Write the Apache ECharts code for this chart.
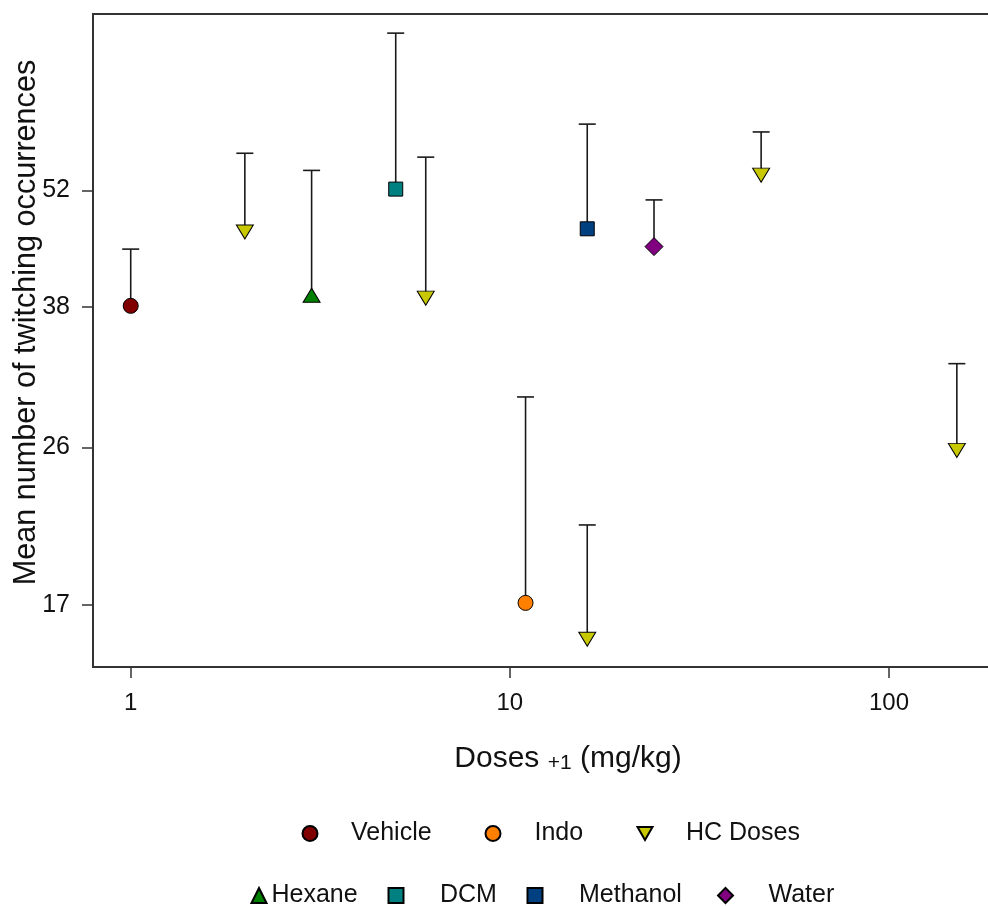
<!DOCTYPE html>
<html><head><meta charset="utf-8">
<script src="https://cdn.jsdelivr.net/npm/echarts@6/dist/echarts.min.js"></script>
<style>html,body{margin:0;padding:0;background:#fff}#c{width:988px;height:906px}</style>
</head><body><div id="c"></div>
<script>
// ---- data (x = dose + 1 in mg/kg, mean and mean+SE of twitching occurrences) ----
const vehicleX = [1],   vehicleMean = [38.1],  vehicleUpper = [44.4];
const indoX = [11],     indoMean = [17.1],     indoUpper = [29.8];
const hcX = [2, 6, 16, 46, 151];
const hcMean = [46.5, 38.9, 15.5, 54.2, 25.8];
const hcUpper = [57.5, 56.9, 21.1, 60.9, 32.6];
const hexaneX = [3],    hexaneMean = [39.2],   hexaneUpper = [54.9];
const dcmX = [5],       dcmMean = [52.2],      dcmUpper = [79.5];
const methanolX = [16], methanolMean = [46.9], methanolUpper = [62.2];
const waterX = [24],    waterMean = [44.7],    waterUpper = [50.7];
const yTicks = [17, 26, 38, 52];
const xTicks = [1, 10, 100];
const xTitleMain = 'Doses', xTitleSub = '+1', xTitleUnit = '(mg/kg)';
const yTitle = 'Mean number of twitching occurrences';

const FONT = "'Liberation Sans', Arial, sans-serif";
const downTri = 'path://M0,0L16,0L8,14Z';

const groups = [
  {name: 'Vehicle',  x: vehicleX,  m: vehicleMean,  u: vehicleUpper,  symbol: 'circle',   size: 15,       color: '#800000'},
  {name: 'Indo',     x: indoX,     m: indoMean,     u: indoUpper,     symbol: 'circle',   size: 15,       color: '#FF8000'},
  {name: 'HC Doses', x: hcX,       m: hcMean,       u: hcUpper,       symbol: downTri,    size: [17, 14], color: '#C8C800'},
  {name: 'Hexane',   x: hexaneX,   m: hexaneMean,   u: hexaneUpper,   symbol: 'triangle', size: [17, 14], color: '#008000'},
  {name: 'DCM',      x: dcmX,      m: dcmMean,      u: dcmUpper,      symbol: 'rect',     size: 14,       color: '#008080'},
  {name: 'Methanol', x: methanolX, m: methanolMean, u: methanolUpper, symbol: 'rect',     size: 14,       color: '#004080'},
  {name: 'Water',    x: waterX,    m: waterMean,    u: waterUpper,    symbol: 'diamond',  size: [18, 18], color: '#800080'}
];

// legend placement: [left of icon, top, text left padding]
const legendPlace = {
  'Vehicle':  [301.5, 821, 28.5],
  'Indo':     [484.5, 821, 29],
  'HC Doses': [636.5, 821, 28.5],
  'Hexane':   [250.5, 883, 0],
  'DCM':      [387.5, 883, 31.5],
  'Methanol': [526.5, 883, 31.5],
  'Water':    [717,   883, 30.5]
};

const errData = [];
groups.forEach(g => g.x.forEach((xv, i) => errData.push([xv, g.m[i], g.u[i]])));

function renderErr(params, api) {
  const x = api.value(0), m = api.value(1), u = api.value(2);
  const p0 = api.coord([x, m]), p1 = api.coord([x, u]);
  const hw = 8.5;
  const st = {stroke: '#1a1a1a', lineWidth: 1.6};
  return {type: 'group', children: [
    {type: 'line', shape: {x1: p0[0], y1: p0[1], x2: p1[0], y2: p1[1]}, style: st},
    {type: 'line', shape: {x1: p1[0] - hw, y1: p1[1], x2: p1[0] + hw, y2: p1[1]}, style: st}
  ]};
}

const series = [{
  type: 'custom', name: 'err', renderItem: renderErr, data: errData, z: 1,
  encode: {x: 0, y: [1, 2]}, silent: true
}];
groups.forEach(g => series.push({
  type: 'scatter', name: g.name, z: 3,
  symbol: g.symbol, symbolSize: g.size,
  data: g.x.map((xv, i) => [xv, g.m[i]]),
  itemStyle: {color: g.color, borderColor: '#000', borderWidth: 1, opacity: 1}
}));

const legends = groups.map(g => {
  const p = legendPlace[g.name];
  return {
    left: p[0], top: p[1], padding: 0, itemGap: 0, itemWidth: 15, itemHeight: 15,
    textStyle: {fontSize: 25, color: '#111', fontFamily: FONT, padding: [0, 0, 0, p[2]]},
    data: [g.name]
  };
});

const option = {
  animation: false,
  backgroundColor: '#fff',
  textStyle: {fontFamily: FONT},
  grid: {left: 93, right: -55, top: 14, bottom: 239, show: true, borderColor: '#333', borderWidth: 2,
         containLabel: false, outerBoundsMode: 'none'},
  xAxis: {
    type: 'log', logBase: 10, min: 0.7953, max: 254.8,
    axisLine: {show: false},
    axisTick: {show: true, length: 11, customValues: xTicks, lineStyle: {color: '#333', width: 1.5}},
    axisLabel: {customValues: xTicks, fontSize: 24, color: '#111', margin: 24, fontFamily: FONT},
    splitLine: {show: false},
    name: '{a|' + xTitleMain + ' }{b|' + xTitleSub + '}{a| ' + xTitleUnit + '}',
    nameLocation: 'middle', nameGap: 77,
    nameTextStyle: {rich: {
      a: {fontSize: 30, color: '#111', fontFamily: FONT, verticalAlign: 'bottom'},
      b: {fontSize: 21, color: '#111', fontFamily: FONT, verticalAlign: 'bottom'}
    }}
  },
  yAxis: {
    type: 'log', logBase: 10, min: 14.385, max: 83.71,
    axisLine: {show: false},
    axisTick: {show: true, length: 11, customValues: yTicks, lineStyle: {color: '#333', width: 1.5}},
    axisLabel: {customValues: yTicks, fontSize: 25, color: '#111', margin: 23, fontFamily: FONT},
    splitLine: {show: false},
    name: yTitle, nameLocation: 'middle', nameGap: 51, nameRotate: 90, nameMoveOverlap: false,
    nameTextStyle: {fontSize: 30.6, color: '#111', fontFamily: FONT, padding: [0, 0, 0, 36]}
  },
  legend: legends,
  series: series
};
const chart = echarts.init(document.getElementById('c'), null, {renderer: 'canvas'});
chart.setOption(option);
</script>
</body></html>
